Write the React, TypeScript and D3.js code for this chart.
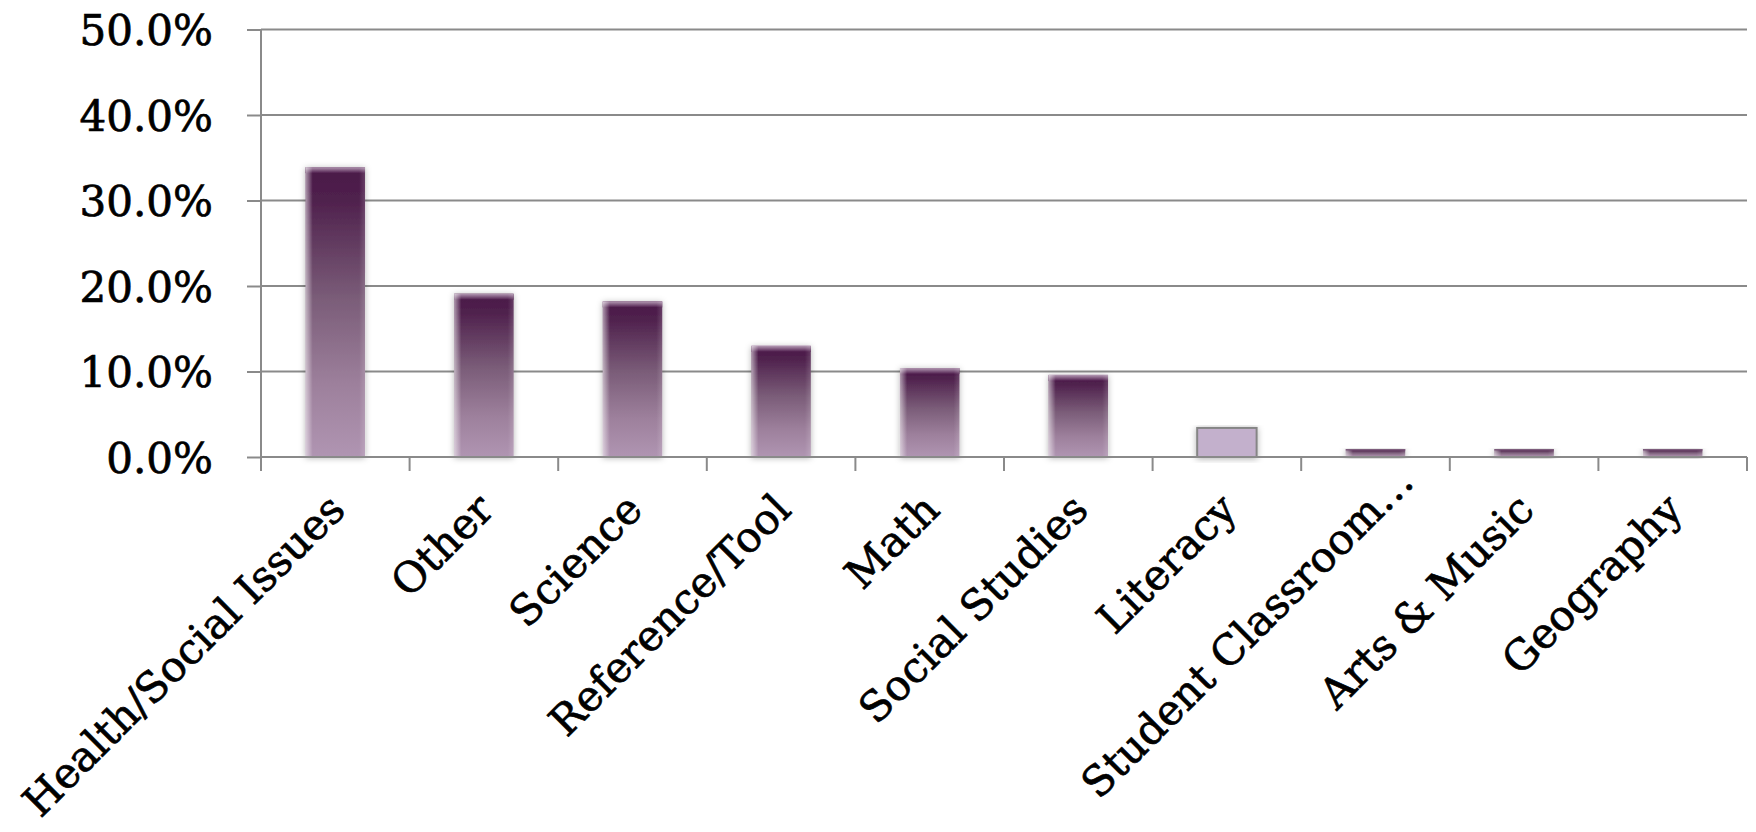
import { useEffect, useRef } from "react";
import * as d3 from "d3";

const categories = [
    "Health/Social Issues",
    "Other",
    "Science",
    "Reference/Tool",
    "Math",
    "Social Studies",
    "Literacy",
    "Student Classroom…",
    "Arts & Music",
    "Geography",
];
const shares = [33.9, 19.1, 18.2, 13.0, 10.4, 9.6, 3.4, 0.9, 0.9, 0.9];
const yTicks = [0, 10, 20, 30, 40, 50];
const highlighted = "Literacy";
// the truncated label keeps the slot of its full text, so it sits further along
const truncated = "Student Classroom…";

const width = 1756;
const height = 832;
const marginLeft = 261;
const marginRight = 9;
const plotTop = 29.5;
const plotBottom = 457;
const font = "'DejaVu Serif', serif";

const App = () => {
    const refYAxis = useRef(null);
    const refXAxis = useRef(null);

    const data = categories.map((c, i) => ({ label: c, value: shares[i] }));

    const xScale = d3
        .scaleBand()
        .domain(categories)
        .range([marginLeft, width - marginRight])
        .paddingInner(0.6)
        .paddingOuter(0.3);

    const yScale = d3.scaleLinear().domain([0, 50]).range([plotBottom, plotTop]);

    useEffect(() => {
        document.body.style.margin = "0";

        const yAxis = d3
            .axisLeft(yScale)
            .tickValues(yTicks)
            .tickSize(14)
            .tickFormat((d) => `${d3.format(".1f")(d)}%`);
        const gy = d3.select(refYAxis.current);
        gy.call(yAxis);
        gy.select(".domain").remove();
        gy.selectAll("line").attr("stroke", "#8a8a8a").attr("stroke-width", 2);
        gy.selectAll("text")
            .attr("x", -48)
            .attr("dy", "0.36em")
            .attr("fill", "#000")
            .attr("stroke", "#000")
            .attr("stroke-width", 0.7)
            .style("font-family", font)
            .style("font-size", "42px");

        // category ticks sit on band boundaries, not centres
        const step = xScale.step();
        const edges = d3.range(categories.length + 1).map((i) => marginLeft + i * step);
        const gx = d3.select(refXAxis.current);
        gx.selectAll("*").remove();
        gx.selectAll("line.tick")
            .data(edges)
            .join("line")
            .attr("class", "tick")
            .attr("x1", (d) => d)
            .attr("x2", (d) => d)
            .attr("y1", plotBottom)
            .attr("y2", plotBottom + 14)
            .attr("stroke", "#8a8a8a")
            .attr("stroke-width", 2);
        gx.selectAll("text")
            .data(categories)
            .join("text")
            .attr("text-anchor", "end")
            .attr("transform", (d) => {
                const cx = xScale(d) + xScale.bandwidth() / 2 + 12;
                return `translate(${cx},${plotBottom + 55}) rotate(-45)`;
            })
            .attr("dx", (d) => (d === truncated ? 40 : 0))
            .attr("fill", "#000")
            .attr("stroke", "#000")
            .attr("stroke-width", 0.7)
            .style("font-family", font)
            .style("font-size", "42px")
            .text((d) => d);
    }, []);

    return (
        <svg
            width={width}
            height={height}
            viewBox={`0 0 ${width} ${height}`}
            style={{ position: "absolute", left: 0, top: 0, background: "#fff" }}
        >
            <defs>
                <linearGradient id="barFill" x1="0" y1="0" x2="0" y2="1">
                    <stop offset="0" stopColor="#4a1848" />
                    <stop offset="0.12" stopColor="#50224e" />
                    <stop offset="0.45" stopColor="#7a5c78" />
                    <stop offset="0.75" stopColor="#9d809c" />
                    <stop offset="1" stopColor="#b095b2" />
                </linearGradient>
                <linearGradient id="barEdge" x1="0" y1="0" x2="1" y2="0">
                    <stop offset="0" stopColor="#fff" stopOpacity="0.55" />
                    <stop offset="0.12" stopColor="#fff" stopOpacity="0" />
                    <stop offset="0.9" stopColor="#fff" stopOpacity="0" />
                    <stop offset="1" stopColor="#fff" stopOpacity="0.15" />
                </linearGradient>
                <linearGradient id="barTop" x1="0" y1="0" x2="0" y2="1">
                    <stop offset="0" stopColor="#b49ab4" />
                    <stop offset="1" stopColor="#4e1c4c" />
                </linearGradient>
                <filter id="shadow" x="-30%" y="-10%" width="160%" height="130%">
                    <feDropShadow dx="0" dy="1" stdDeviation="3" floodColor="#000" floodOpacity="0.3" />
                </filter>
            </defs>

            <g className="grid">
                {yTicks.map((t) => (
                    <line
                        key={t}
                        x1={marginLeft}
                        x2={width - marginRight}
                        y1={yScale(t)}
                        y2={yScale(t)}
                        stroke="#8a8a8a"
                        strokeWidth={2}
                    />
                ))}
                <line
                    x1={marginLeft}
                    x2={marginLeft}
                    y1={plotTop}
                    y2={plotBottom}
                    stroke="#8a8a8a"
                    strokeWidth={2}
                />
            </g>

            <g className="bars">
                {data.map((d, i) => {
                    const x = xScale(d.label);
                    const y = yScale(d.value);
                    const w = xScale.bandwidth();
                    const h = yScale(0) - y;
                    if (d.label === highlighted) {
                        return (
                            <rect
                                key={i}
                                x={x}
                                y={y}
                                width={w}
                                height={h}
                                fill="#c3b0cc"
                                stroke="#858585"
                                strokeWidth={2}
                                filter="url(#shadow)"
                            />
                        );
                    }
                    return (
                        <g key={i}>
                            <rect x={x} y={y} width={w} height={h} fill="url(#barFill)" filter="url(#shadow)" />
                            {h > 20 && <rect x={x} y={y} width={w} height={6} fill="url(#barTop)" />}
                            <rect x={x} y={y} width={w} height={h} fill="url(#barEdge)" />
                            {h <= 20 && (
                                <line x1={x} x2={x + w} y1={y + 0.5} y2={y + 0.5} stroke="#7d5c7c" strokeWidth={1.5} />
                            )}
                        </g>
                    );
                })}
            </g>

            <line
                x1={marginLeft}
                x2={width - marginRight}
                y1={plotBottom}
                y2={plotBottom}
                stroke="#8a8a8a"
                strokeWidth={2}
            />
            <g className="y-axis" ref={refYAxis} transform={`translate(${marginLeft},0)`}></g>
            <g className="x-axis" ref={refXAxis}></g>
        </svg>
    );
};

export default App;
